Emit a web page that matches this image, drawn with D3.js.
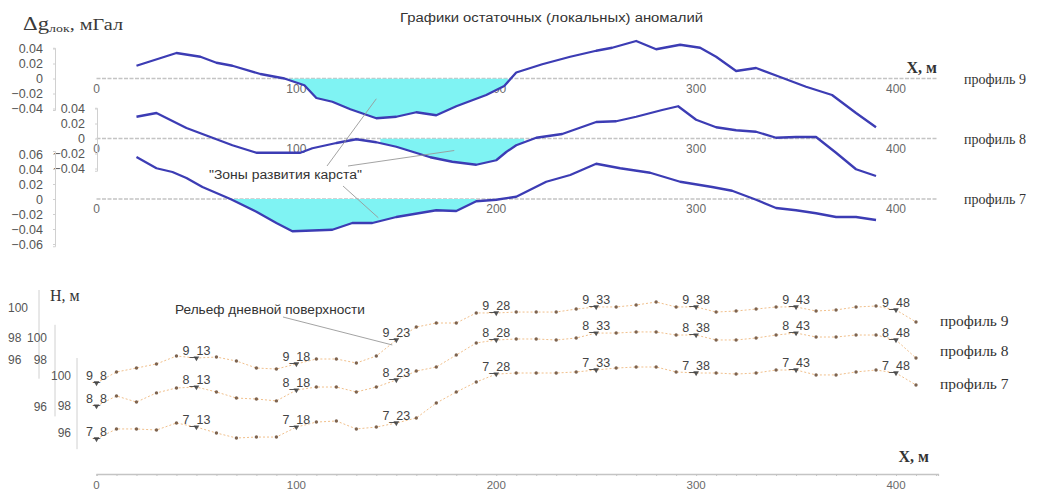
<!DOCTYPE html>
<html>
<head>
<meta charset="utf-8">
<script src="https://cdn.jsdelivr.net/npm/d3@7"></script>
<style>
  body { margin: 0; background: #fff; }
  svg text { font-family: "Liberation Sans", Arial, sans-serif; }
  svg text.serif { font-family: "Liberation Serif", "Times New Roman", serif; }
</style>
</head>
<body>
<svg id="chart" width="1041" height="492"></svg>
<script>
// ---------- residual (local) gravity anomalies: [distance, m ; Δg, mGal] ----------
const anomaly9 = [[20,0.017],[40,0.034],[52,0.029],[60,0.021],[68,0.017],[82,0.006],[94,0.000],[104,-0.009],[110,-0.026],[118,-0.031],[127,-0.041],[140,-0.053],[150,-0.051],[160,-0.045],[170,-0.049],[180,-0.037],[187,-0.030],[195,-0.022],[204,-0.010],[210,0.008],[223,0.019],[237,0.029],[250,0.037],[258,0.041],[270,0.050],[280,0.039],[292,0.045],[302,0.041],[310,0.029],[320,0.010],[330,0.014],[342,0.002],[355,-0.011],[368,-0.022],[380,-0.046],[390,-0.065]];
const anomaly8 = [[20,0.029],[30,0.034],[45,0.014],[58,0.001],[68,-0.009],[80,-0.019],[102,-0.019],[108,-0.013],[120,-0.006],[130,-0.001],[140,-0.005],[150,-0.011],[167,-0.025],[178,-0.031],[190,-0.035],[200,-0.029],[205,-0.018],[210,-0.009],[220,0.001],[233,0.006],[250,0.022],[260,0.023],[270,0.029],[283,0.038],[291,0.043],[300,0.025],[310,0.015],[320,0.011],[330,0.009],[340,0.001],[350,0.002],[360,0.002],[370,-0.019],[380,-0.041],[390,-0.050]];
const anomaly7 = [[20,0.056],[30,0.041],[38,0.036],[45,0.028],[53,0.016],[67,0.000],[80,-0.017],[90,-0.032],[98,-0.043],[118,-0.041],[128,-0.032],[138,-0.032],[150,-0.024],[170,-0.015],[180,-0.016],[190,-0.003],[200,-0.001],[210,0.003],[225,0.023],[237,0.032],[250,0.047],[262,0.041],[277,0.035],[292,0.023],[308,0.016],[318,0.011],[330,-0.001],[340,-0.012],[350,-0.015],[360,-0.019],[370,-0.024],[380,-0.024],[390,-0.028]];

// karst development zones along each profile, m
const karstZone9 = [93, 206];
const karstZone8 = [142, 214];
const karstZone7 = [67, 190];

const xTicks = [0, 100, 200, 300, 400];
const gTicks9 = [0.04, 0.02, 0, -0.02, -0.04];
const gTicks8 = [0.04, 0.02, 0, -0.02, -0.04];
const gTicks7 = [0.06, 0.04, 0.02, 0, -0.02, -0.04, -0.06];

// ---------- surface relief, H (m) at stations every 10 m ----------
const stations = [0,10,20,30,40,50,60,70,80,90,100,110,120,130,140,150,160,170,180,190,200,210,220,230,240,250,260,270,280,290,300,310,320,330,340,350,360,370,380,390,400,410];
const relief9 = [93.91,94.91,95.27,95.64,96.36,96.18,96.27,95.91,95.27,95.18,95.64,96.09,96.09,95.73,96.36,97.82,98.73,99.00,99.00,99.67,99.67,99.73,99.73,99.73,99.93,100.07,100.07,100.20,100.40,100.07,100.07,99.73,99.80,99.93,100.07,100.07,99.80,99.87,100.07,100.13,99.87,99.07];
const relief8 = [96.04,96.47,96.21,96.60,96.81,96.85,96.64,96.38,96.34,96.26,96.72,96.85,96.85,96.64,96.85,97.15,97.53,97.70,98.45,99.55,99.82,99.91,99.91,99.82,100.00,100.45,100.45,100.55,100.55,100.27,100.27,99.82,99.82,100.00,100.27,100.45,100.09,100.09,100.27,100.27,99.82,98.18];
const relief7 = [95.56,96.30,96.30,96.22,96.74,96.44,96.00,95.63,95.70,95.70,96.44,96.81,96.89,96.30,96.44,96.74,97.11,98.20,98.93,99.60,100.13,100.20,100.20,100.20,100.27,100.40,100.53,100.60,100.60,100.27,100.20,100.20,100.13,100.20,100.40,100.40,100.07,100.07,100.27,100.40,100.20,99.40];

// named pickets (profile_picket)
const picketNames = ["8","13","18","23","28","33","38","43","48"];
const picketDist = [0,50,100,150,200,250,300,350,400];
const hTicks = [100, 98, 96];

// ==================================================================
const svg = d3.select("#chart");
const x = d3.scaleLinear().domain([0, 400]).range([96.5, 896]);
const xEnd = 421;           // axis lines run a bit past the last tick

const curveColor = "#3c3cb4", fillColor = "#7ff3f3";

// title
svg.append("text").attr("x", 400).attr("y", 22)
  .attr("font-size", 12).attr("fill", "#333")
  .attr("textLength", 303).attr("lengthAdjust", "spacingAndGlyphs")
  .text("Графики остаточных (локальных) аномалий");

// Δg label
const gl = svg.append("text").attr("class", "serif").attr("x", 23).attr("y", 30).attr("fill", "#3a3a3a")
  .attr("textLength", 100).attr("lengthAdjust", "spacingAndGlyphs");
gl.append("tspan").attr("font-size", 18).text("Δg");
gl.append("tspan").attr("font-size", 11).attr("dy", 2).text("лок");
gl.append("tspan").attr("font-size", 16).attr("dy", -2).text(", мГал");

// ---------- anomaly panels ----------
const panels = [
  { data: anomaly9, zone: karstZone9, ticks: gTicks9, zero: 78.5, axisX: 55, ext: [-0.042, 0.041], name: "профиль 9" },
  { data: anomaly8, zone: karstZone8, ticks: gTicks8, zero: 138.5, axisX: 97, ext: [-0.043, 0.041], name: "профиль 8" },
  { data: anomaly7, zone: karstZone7, ticks: gTicks7, zero: 199, axisX: 55, ext: [-0.063, 0.064], name: "профиль 7" }
];

panels.forEach((p, i) => {
  p.y = d3.scaleLinear().domain([-0.06, 0.06]).range([p.zero + 45, p.zero - 45]);
  const g = svg.append("g");

  // zero line with distance labels
  g.append("line").attr("x1", x(0)).attr("x2", x(xEnd))
    .attr("y1", p.y(0)).attr("y2", p.y(0))
    .attr("stroke", "#c4c4c4").attr("stroke-width", 1.3).attr("stroke-dasharray", "4,1.5");
  g.selectAll(".xl").data(xTicks).join("text")
    .attr("x", d => x(d)).attr("y", p.y(0) + 14).attr("text-anchor", "middle")
    .attr("font-size", 12).attr("fill", "#6a6a6a").text(d => d);

  // karst zone shading
  const clipId = "zone" + i;
  svg.append("clipPath").attr("id", clipId).append("rect")
    .attr("x", x(p.zone[0])).attr("width", x(p.zone[1]) - x(p.zone[0]))
    .attr("y", p.y(0)).attr("height", 60);
  g.append("path").datum(p.data)
    .attr("clip-path", `url(#${clipId})`)
    .attr("fill", fillColor)
    .attr("d", d3.area().x(d => x(d[0])).y0(p.y(0)).y1(d => p.y(Math.min(d[1], 0))));

  // anomaly curve
  g.append("path").datum(p.data)
    .attr("fill", "none").attr("stroke", curveColor).attr("stroke-width", 2.3)
    .attr("stroke-linejoin", "round")
    .attr("d", d3.line().x(d => x(d[0])).y(d => p.y(d[1])));

  // value axis
  const axScale = p.y.copy().domain(p.ext).range([p.y(p.ext[0]), p.y(p.ext[1])]);
  const ax = g.append("g").attr("transform", `translate(${p.axisX},0)`)
    .call(d3.axisLeft(axScale).tickValues(p.ticks).tickSize(2).tickPadding(10)
      .tickFormat(d => d === 0 ? "0" : d3.format(".2f")(d)));
  ax.select(".domain").attr("stroke", "#d0d0d0");
  ax.selectAll(".tick line").attr("stroke", "#d0d0d0");
  ax.selectAll(".tick text").attr("fill", "#555").attr("font-size", 12.5)
    .attr("font-family", "Liberation Sans, Arial, sans-serif");

  // profile name
  g.append("text").attr("class", "serif").attr("x", 964).attr("y", p.y(0) + 5)
    .attr("font-size", 14).attr("fill", "#333").text(p.name);
});

svg.append("text").attr("class", "serif").attr("x", 937).attr("y", 73).attr("text-anchor", "end")
  .attr("font-size", 16).attr("font-weight", "bold").attr("fill", "#333").text("X, м");

// karst zone callout
const [p9, p8, p7] = panels;
svg.append("text").attr("x", 209).attr("y", 179).attr("font-size", 12).attr("fill", "#333")
  .attr("textLength", 153).attr("lengthAdjust", "spacingAndGlyphs")
  .text("\"Зоны развития карста\"");
const karstLeaders = [
  [[327, 166], [x(140), p9.y(-0.027)]],
  [[348, 166], [x(179), p8.y(-0.016)]],
  [[343, 186], [x(141), p7.y(-0.025)]]
];
svg.selectAll(".kl").data(karstLeaders).join("line")
  .attr("x1", d => d[0][0]).attr("y1", d => d[0][1])
  .attr("x2", d => d[1][0]).attr("y2", d => d[1][1])
  .attr("stroke", "#999").attr("stroke-width", 0.9);

// ---------- relief panel ----------
const reliefPanels = [
  { id: "9", h: relief9, y: d3.scaleLinear().domain([96, 98, 100]).range([360, 338, 308]), axisX: 39, ext: [94.3, 101.2], labX: 8, anchor: "start", name: "профиль 9", nameY: 326 },
  { id: "8", h: relief8, y: d3.scaleLinear().domain([96, 98, 100]).range([407, 360, 338]), axisX: 55, ext: [95.6, 101.2], labX: 47, anchor: "end", name: "профиль 8", nameY: 356 },
  { id: "7", h: relief7, y: d3.scaleLinear().domain([96, 98, 100]).range([433, 406, 376]), axisX: 77, ext: [94.8, 101.2], labX: 71, anchor: "end", name: "профиль 7", nameY: 389 }
];

// distance axis
const xAxisY = 474;
const xa = svg.append("g").attr("transform", `translate(0,${xAxisY})`)
  .call(d3.axisBottom(x.copy().domain([0, xEnd]).range([x(0), x(xEnd)]))
    .tickValues(stations.concat([420])).tickSize(2).tickFormat(""));
xa.select(".domain").attr("stroke", "#c4c4c4").attr("stroke-width", 1.3);
xa.selectAll(".tick line").attr("stroke", "#c4c4c4");
svg.selectAll(".xb").data(xTicks).join("text")
  .attr("x", d => x(d)).attr("y", 489).attr("text-anchor", "middle")
  .attr("font-size", 11.5).attr("fill", "#6a6a6a").text(d => d);
svg.append("text").attr("class", "serif").attr("x", 929).attr("y", 462).attr("text-anchor", "end")
  .attr("font-size", 16).attr("font-weight", "bold").attr("fill", "#333").text("X, м");

svg.append("text").attr("class", "serif").attr("x", 50).attr("y", 301)
  .attr("font-size", 16).attr("fill", "#333").text("H, м");

const tri = d3.symbol().type(d3.symbolTriangle).size(14);

reliefPanels.forEach(rp => {
  const g = svg.append("g");
  const pts = stations.map((s, i) => [s, rp.h[i]]);

  // height axis
  const axScale = rp.y.copy().domain(rp.ext).range([rp.y(rp.ext[0]), rp.y(rp.ext[1])]);
  g.append("line").attr("x1", rp.axisX).attr("x2", rp.axisX)
    .attr("y1", axScale(rp.ext[0])).attr("y2", axScale(rp.ext[1]))
    .attr("stroke", "#d0d0d0");
  g.selectAll(".ht").data(hTicks).join("text")
    .attr("x", rp.labX).attr("y", d => rp.y(d) + 4).attr("text-anchor", rp.anchor)
    .attr("font-size", 12).attr("fill", "#555").text(d => d);

  // relief line
  g.append("path").datum(pts)
    .attr("fill", "none").attr("stroke", "#f1c08c").attr("stroke-width", 1)
    .attr("stroke-dasharray", "2,2")
    .attr("d", d3.line().x(d => x(d[0])).y(d => rp.y(d[1])));

  // stations
  g.selectAll(".st").data(pts.filter(d => !picketDist.includes(d[0]))).join("circle")
    .attr("cx", d => x(d[0])).attr("cy", d => rp.y(d[1])).attr("r", 1.7)
    .attr("fill", "#7d634f");

  // named pickets
  picketDist.forEach((dist, k) => {
    const hv = rp.h[stations.indexOf(dist)];
    const px = x(dist), py = rp.y(hv);
    g.append("path").attr("d", tri)
      .attr("transform", `translate(${px},${py}) rotate(180)`)
      .attr("fill", "#555");
    g.append("text").attr("x", px).attr("y", py - 3).attr("text-anchor", "middle")
      .attr("font-size", 12.5).attr("fill", "#444").text(rp.id + "_" + picketNames[k]);
  });

  g.append("text").attr("class", "serif").attr("x", 940).attr("y", rp.nameY)
    .attr("font-size", 15.5).attr("fill", "#333").text(rp.name);
});

// relief callout
const r9 = reliefPanels[0];
svg.append("text").attr("x", 175).attr("y", 314).attr("font-size", 12).attr("fill", "#333")
  .attr("textLength", 190).attr("lengthAdjust", "spacingAndGlyphs")
  .text("Рельеф дневной поверхности");
svg.append("line").attr("x1", 283).attr("y1", 317)
  .attr("x2", x(148)).attr("y2", r9.y(relief9[stations.indexOf(150)]) + 5)
  .attr("stroke", "#999").attr("stroke-width", 0.9);
</script>
</body>
</html>
